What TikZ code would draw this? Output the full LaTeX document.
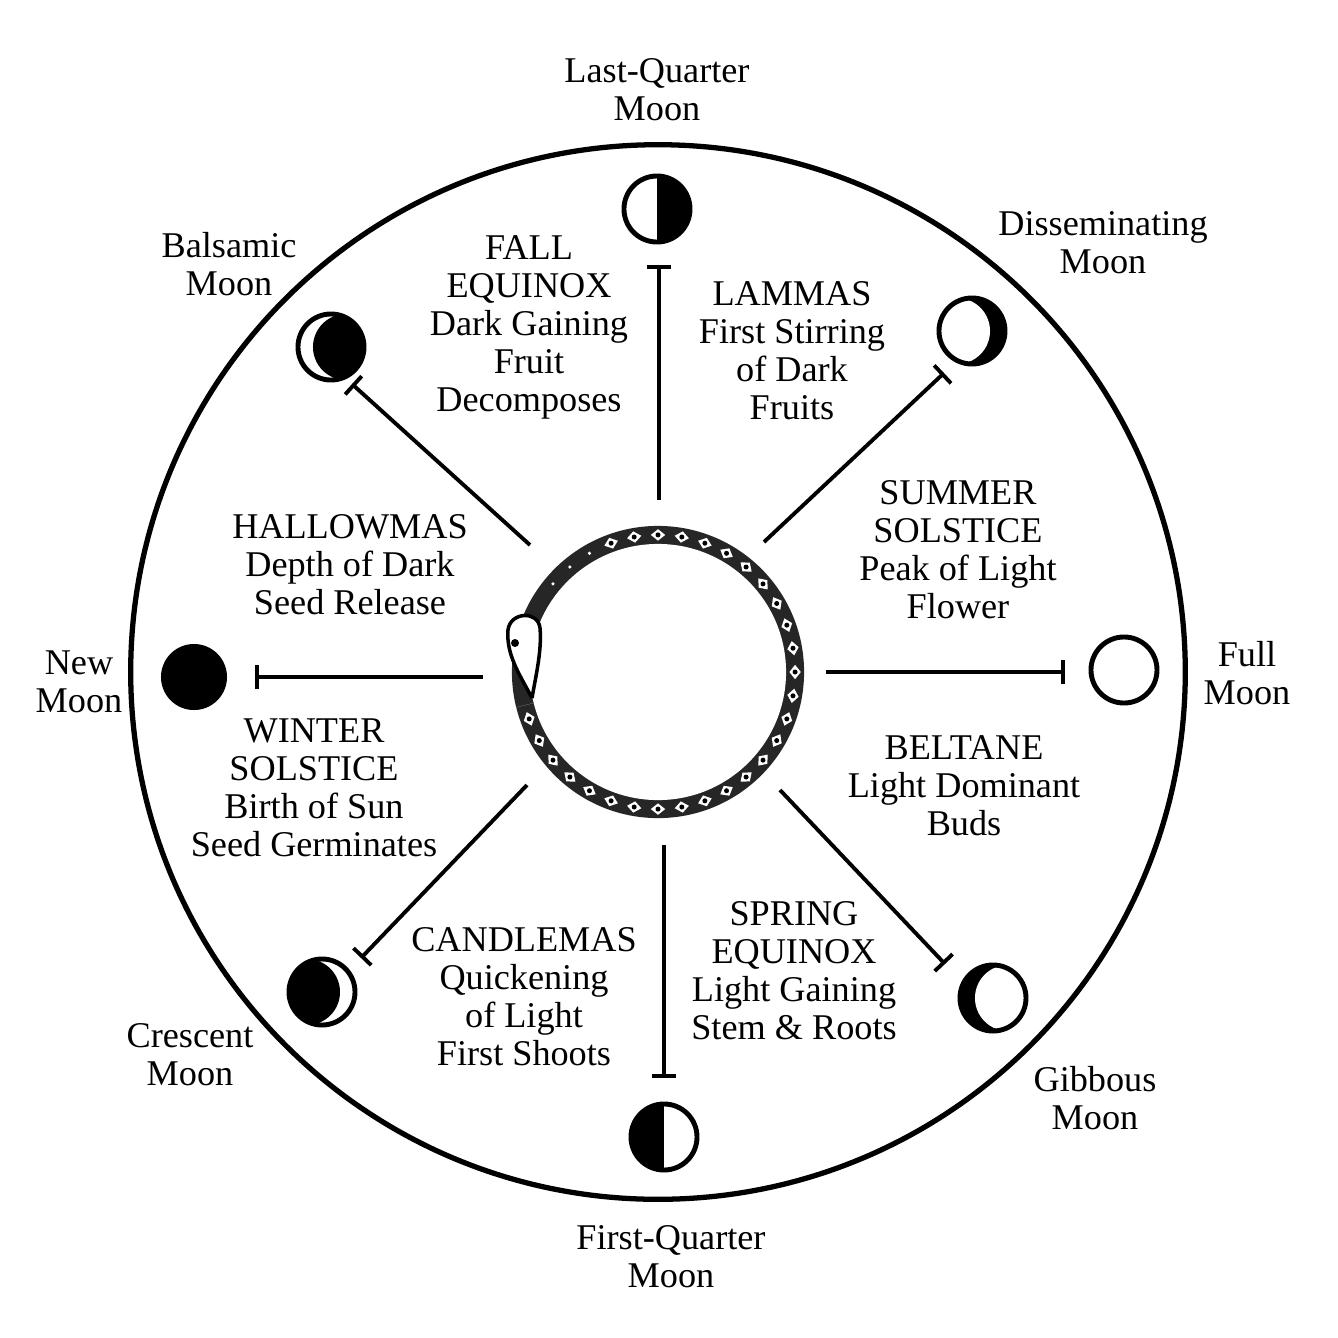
\documentclass[tikz,border=0pt]{standalone}
\usepackage{fontspec}
\setmainfont{Liberation Serif}
\usetikzlibrary{shapes.geometric,arrows.meta}
\begin{document}
\begin{tikzpicture}[x=0.01cm,y=-0.01cm,
  lbl/.style={align=center,font=\fontsize{10.3pt}{10.8pt}\selectfont,inner sep=0pt},
  spoke/.style={line width=1.1pt,{Bar[width=7pt]}-}]
\useasboundingbox (0,0) rectangle (1338,1338);
\fill[white] (0,0) rectangle (1338,1338);
\coordinate (C) at (658,672);
\draw[line width=1.5pt] (C) circle (5.27cm);
% snake ring
\fill[black!85] (C) circle (1.46cm);
\fill[white] (C) circle (1.28cm);
\foreach \a in {-160,-150,...,110}{
  \path (C) ++(\a:1.37cm) node[fill=white,diamond,rotate=\a+90,minimum width=0.15cm,minimum height=0.12cm,inner sep=0pt] (d\a) {};
  \fill[black] (C) ++(\a:1.37cm) circle (0.025cm);
}
\foreach \a in {120,130,140}{\fill[white] (C) ++(\a:1.37cm) circle (0.018cm);}
% head
\fill[white] (C)++(162:1.27cm) -- (C)++(166:1.49cm) -- (C)++(194:1.49cm) -- (C)++(194:1.27cm) -- cycle;
\draw[line width=1pt,fill=white] (532,698) .. controls (520,675) and (506,655) .. (508,630)
  .. controls (510,612) and (538,610) .. (540,628) .. controls (542,650) and (536,675) .. (532,698);
\fill (515,643) circle (0.04cm);
% moons
\tikzset{moon/.style={line width=1.4pt}}
\def\rr{0.33cm}
\coordinate (m1) at (657,209);
\begin{scope}\clip (m1) circle (\rr); \fill (m1) rectangle ++(40,-40); \fill (m1) rectangle ++(40,40);\end{scope}
\draw[moon] (m1) circle (\rr);
\coordinate (m2) at (972,331);
\begin{scope}\clip (m2) circle (\rr); \fill (m2) circle (\rr); \fill[white] (m2) ++(-15,0) circle (\rr);\end{scope}
\draw[moon] (m2) circle (\rr);
\coordinate (m3) at (1124,670);
\draw[moon] (m3) circle (\rr);
\coordinate (m4) at (993,998);
\begin{scope}\clip (m4) circle (\rr); \fill (m4) circle (\rr); \fill[white] (m4) ++(15,0) circle (\rr);\end{scope}
\draw[moon] (m4) circle (\rr);
\coordinate (m5) at (664,1137);
\begin{scope}\clip (m5) circle (\rr); \fill (m5) rectangle ++(-40,-40); \fill (m5) rectangle ++(-40,40);\end{scope}
\draw[moon] (m5) circle (\rr);
\coordinate (m6) at (322,992);
\begin{scope}\clip (m6) circle (\rr); \fill (m6) ++(-15,0) circle (\rr);\end{scope}
\draw[moon] (m6) circle (\rr);
\coordinate (m7) at (194,677);
\fill (m7) circle (\rr);
\coordinate (m8) at (331,347);
\begin{scope}\clip (m8) circle (\rr); \fill (m8) ++(15,0) circle (\rr);\end{scope}
\draw[moon] (m8) circle (\rr);
% spokes
\coordinate (s1a) at (659,265); \coordinate (s1b) at (659,500);
\coordinate (s2a) at (944,373); \coordinate (s2b) at (764,542);
\coordinate (s3a) at (1065,672); \coordinate (s3b) at (826,672);
\coordinate (s4a) at (945,964); \coordinate (s4b) at (780,790);
\coordinate (s5a) at (664,1078); \coordinate (s5b) at (664,845);
\coordinate (s6a) at (361,958); \coordinate (s6b) at (527,785);
\coordinate (s7a) at (255,677); \coordinate (s7b) at (483,677);
\coordinate (s8a) at (352,384); \coordinate (s8b) at (530,545);
\foreach \i in {1,...,8}{\draw[spoke] (s\i a) -- (s\i b);}
% labels
\node[lbl] (t1) at (657,90) {Last-Quarter\\Moon};
\node[lbl] (t2) at (1103,243) {Disseminating\\Moon};
\node[lbl] (t3) at (1247,673) {Full\\Moon};
\node[lbl] (t4) at (1095,1098) {Gibbous\\Moon};
\node[lbl] (t5) at (671,1257) {First-Quarter\\Moon};
\node[lbl] (t6) at (190,1055) {Crescent\\Moon};
\node[lbl] (t7) at (79,682) {New\\Moon};
\node[lbl] (t8) at (229,264) {Balsamic\\Moon};
\node[lbl] (f1) at (529,327) {FALL\\EQUINOX\\Dark Gaining\\Fruit\\Decomposes};
\node[lbl] (f2) at (792,351) {LAMMAS\\First Stirring\\of Dark\\Fruits};
\node[lbl] (f3) at (958,550) {SUMMER\\SOLSTICE\\Peak of Light\\Flower};
\node[lbl] (f4) at (964,786) {BELTANE\\Light Dominant\\Buds};
\node[lbl] (f5) at (794,971) {SPRING\\EQUINOX\\Light Gaining\\Stem \& Roots};
\node[lbl] (f6) at (524,997) {CANDLEMAS\\Quickening\\of Light\\First Shoots};
\node[lbl] (f7) at (314,788) {WINTER\\SOLSTICE\\Birth of Sun\\Seed Germinates};
\node[lbl] (f8) at (350,565) {HALLOWMAS\\Depth of Dark\\Seed Release};
\end{tikzpicture}
\end{document}
